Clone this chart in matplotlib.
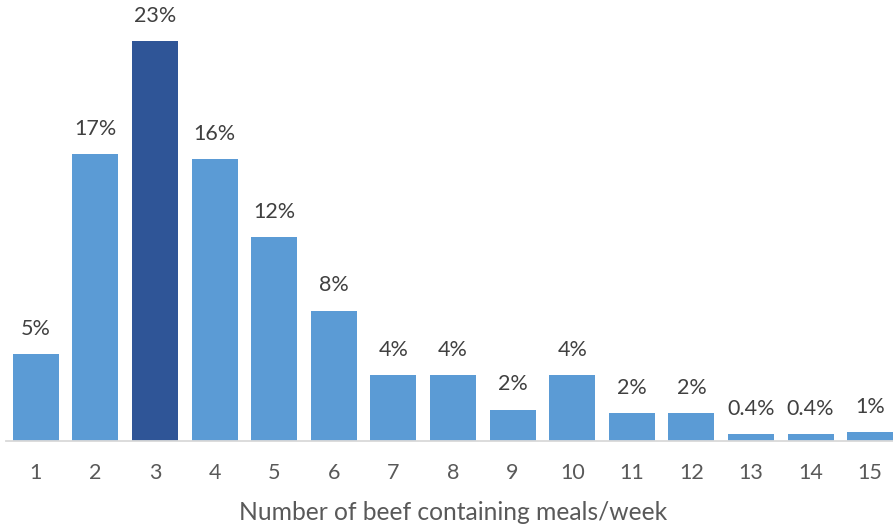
import matplotlib
matplotlib.use("Agg")
import matplotlib.pyplot as plt
from decimal import Decimal, ROUND_HALF_UP

plt.rcParams['font.family'] = ['Lato', 'DejaVu Sans']

meals_per_week = [str(i) for i in range(1, 16)]
share_pct = [5.0, 16.5, 23.0, 16.2, 11.7, 7.5, 3.8, 3.8, 1.8, 3.8, 1.6, 1.6, 0.4, 0.4, 0.5]
highlight = "3"

LIGHT = "#5B9BD5"
DARK = "#2F5597"
TEXT = "#595959"


def pct_label(v):
    if v < 0.5:
        return f"{v:.1f}%"
    return f"{Decimal(str(v)).quantize(Decimal('1'), rounding=ROUND_HALF_UP)}%"


fig = plt.figure(figsize=(8.93, 5.30), dpi=100)
ax = fig.add_axes([6 / 893, 89 / 530, 894 / 893, 435 / 530])

x = list(range(len(meals_per_week)))
colors = [DARK if c == highlight else LIGHT for c in meals_per_week]
bars = ax.bar(x, share_pct, width=0.77, color=colors, zorder=2)

for b, v in zip(bars, share_pct):
    ax.annotate(pct_label(v), (b.get_x() + b.get_width() / 2, v),
                xytext=(0, 11), textcoords="offset points",
                ha="center", va="bottom", fontsize=15.5, color="#404040")

ax.set_xlim(-0.5, len(x) - 0.5)
ax.set_ylim(0, 25)
ax.set_xticks(x)
ax.set_xticklabels(meals_per_week, fontsize=15.5, color=TEXT)
ax.tick_params(axis="x", length=0, pad=16)
ax.set_yticks([])
for side in ("top", "right", "left"):
    ax.spines[side].set_visible(False)
ax.spines["bottom"].set_color("#D9D9D9")
ax.spines["bottom"].set_linewidth(1.3)
ax.set_xlabel("Number of beef containing meals/week", fontsize=17.7, color=TEXT, labelpad=13)

fig.savefig("out.png", dpi=100)
